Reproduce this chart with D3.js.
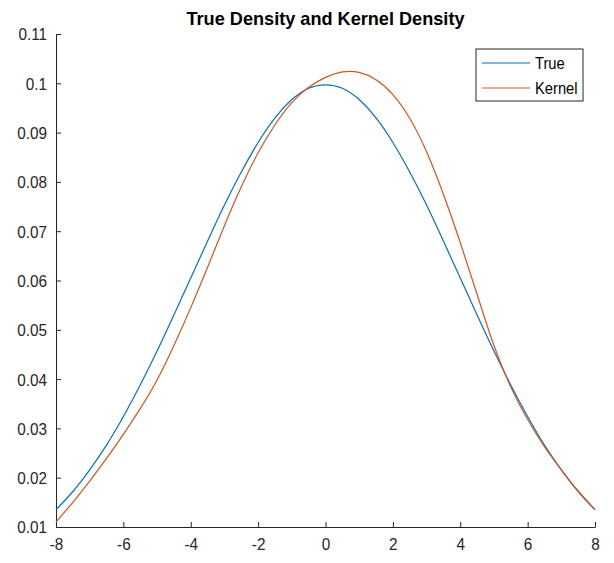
<!DOCTYPE html>
<html>
<head>
<meta charset="utf-8">
<script src="https://cdn.jsdelivr.net/npm/d3@7"></script>
<style>
  body { margin: 0; background: #fff; }
  svg { display: block; font-family: "Liberation Sans", Arial, sans-serif; }
</style>
</head>
<body>
<div id="chart"></div>
<script>
// Values
var xs = [-8, -7.5, -7, -6.5, -6, -5.5, -5, -4.5, -4, -3.5, -3, -2.5, -2, -1.5, -1, -0.5,
          0, 0.5, 1, 1.5, 2, 2.5, 3, 3.5, 4, 4.5, 5, 5.5, 6, 6.5, 7, 7.5, 8];
var trueDensity = [0.0135, 0.0172, 0.0216, 0.0266, 0.0324, 0.0388, 0.0457, 0.0530, 0.0605,
                   0.0680, 0.0753, 0.0820, 0.0880, 0.0930, 0.0967, 0.0990, 0.0997, 0.0990,
                   0.0967, 0.0930, 0.0880, 0.0820, 0.0753, 0.0680, 0.0605, 0.0530, 0.0457,
                   0.0388, 0.0324, 0.0266, 0.0216, 0.0172, 0.0135];
var kernelDensity = [0.0110, 0.0150, 0.0193, 0.0239, 0.0288, 0.0340, 0.0398, 0.0468, 0.0545,
                     0.0627, 0.0711, 0.0790, 0.0859, 0.0916, 0.0961, 0.0992, 0.1012, 0.1023,
                     0.1022, 0.1007, 0.0977, 0.0929, 0.0861, 0.0775, 0.0677, 0.0572, 0.0468,
                     0.0384, 0.0318, 0.0263, 0.0216, 0.0173, 0.0135];
var xTicks = [-8, -6, -4, -2, 0, 2, 4, 6, 8];
var yTicks = [0.01, 0.02, 0.03, 0.04, 0.05, 0.06, 0.07, 0.08, 0.09, 0.1, 0.11];
var seriesNames = ["True", "Kernel"];
var seriesColors = ["#0072BD", "#D95319"];

var width = 614, height = 563;
var margin = {left: 56, right: 19, top: 34, bottom: 36};
var squeeze = 0.9; // the picture's text is a bit narrow

var svg = d3.select("#chart").append("svg")
  .attr("width", width)
  .attr("height", height);

var x = d3.scaleLinear().domain([-8, 8]).range([margin.left, width - margin.right]);
var y = d3.scaleLinear().domain([0.01, 0.11]).range([height - margin.bottom, margin.top]);

// Axes, ticks inward
var xAxis = svg.append("g")
  .attr("transform", "translate(0," + (height - margin.bottom) + ")")
  .call(d3.axisBottom(x).tickValues(xTicks).tickSizeInner(-5).tickSizeOuter(0).tickPadding(10)
    .tickFormat(function(d) { return String(d); }));
var yAxis = svg.append("g")
  .attr("transform", "translate(" + margin.left + ",0)")
  .call(d3.axisLeft(y).tickValues(yTicks).tickSizeInner(-5).tickSizeOuter(0).tickPadding(10)
    .tickFormat(function(d) { return String(+d.toFixed(2)); }));

[xAxis, yAxis].forEach(function(a) {
  a.select(".domain").attr("stroke", "#262626").attr("stroke-width", 1);
  a.selectAll(".tick line").attr("stroke", "#262626");
  a.selectAll(".tick text")
    .attr("fill", "#262626")
    .style("font-size", "17px")
    .style("font-family", "'Liberation Sans', Arial, sans-serif");
});
xAxis.selectAll(".tick text").attr("dy", "0.75em")
  .attr("transform", "scale(" + squeeze + ",1)");
yAxis.selectAll(".tick text").attr("dy", "0.35em")
  .attr("transform", "scale(" + squeeze + ",1)");

// Curves
var line = d3.line()
  .x(function(d) { return x(d[0]); })
  .y(function(d) { return y(d[1]); })
  .curve(d3.curveNatural);

[trueDensity, kernelDensity].forEach(function(vals, i) {
  svg.append("path")
    .datum(xs.map(function(v, j) { return [v, vals[j]]; }))
    .attr("fill", "none")
    .attr("stroke", seriesColors[i])
    .attr("stroke-width", 1.2)
    .attr("d", line);
});

// Title
svg.append("text")
  .attr("x", x(0))
  .attr("y", 25)
  .attr("text-anchor", "middle")
  .attr("textLength", 278)
  .attr("lengthAdjust", "spacingAndGlyphs")
  .style("font-size", "19px")
  .style("font-weight", "bold")
  .attr("fill", "#000")
  .text("True Density and Kernel Density");

// Legend
var legend = svg.append("g").attr("transform", "translate(476,49)");
legend.append("rect")
  .attr("width", 107).attr("height", 52)
  .attr("fill", "#fff")
  .attr("stroke", "#262626").attr("stroke-width", 1);
var items = legend.selectAll(".item")
  .data(seriesNames)
  .enter().append("g")
  .attr("class", "item")
  .attr("transform", function(d, i) { return "translate(0," + (14 + i * 25) + ")"; });
items.append("line")
  .attr("x1", 6).attr("x2", 54)
  .attr("stroke", function(d, i) { return seriesColors[i]; })
  .attr("stroke-width", 1.2);
items.append("text")
  .attr("x", 59 / 0.92)
  .attr("dy", "0.35em")
  .attr("transform", "scale(0.92,1)")
  .attr("fill", "#000")
  .style("font-size", "16px")
  .text(function(d) { return d; });
</script>
</body>
</html>
